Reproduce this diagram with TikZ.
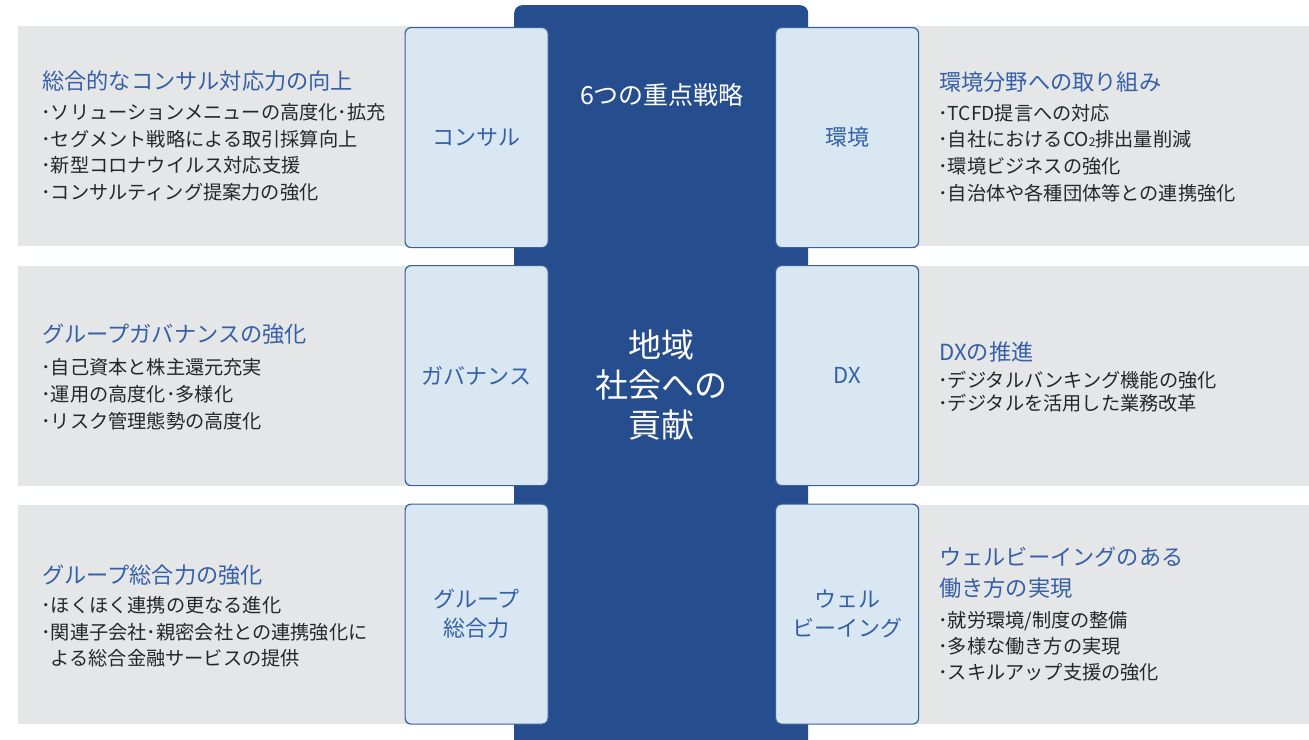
\documentclass[tikz,border=0pt]{standalone}
\usepackage{fontspec}
\setmainfont{Noto Sans CJK JP}
\definecolor{cblue}{HTML}{264D8E}
\definecolor{lbox}{HTML}{D8E7F1}
\definecolor{lborder}{HTML}{3A5F9E}
\definecolor{gpanel}{HTML}{E5E6E8}
\definecolor{ttl}{HTML}{3560A6}
\definecolor{txt}{HTML}{262626}
\newcommand{\bdot}{･}
\tikzset{
  panel/.style={fill=gpanel, draw=none, inner sep=0pt, anchor=north west},
  lab/.style={fill=lbox, draw=lborder, line width=1.2pt, rounded corners=6pt, inner sep=0pt,
     minimum width=143pt, minimum height=220pt, anchor=north west, align=center,
     text=ttl, font={\fontsize{22}{29}\selectfont}},
  title/.style={anchor=west, inner sep=0pt, text=ttl, align=left, font={\fontsize{22.2}{31}\selectfont}},
  bul/.style={anchor=west, inner sep=0pt, text=txt, align=left},
}
\begin{document}
\begin{tikzpicture}[x=1pt,y=-1pt]
\useasboundingbox (0,0) rectangle (1309,739);
\clip (0,0) rectangle (1309,739);
% gray panels
\node[panel, minimum width=502pt, minimum height=220pt] (gL1) at (18,26) {};
\node[panel, minimum width=502pt, minimum height=220pt] (gL2) at (18,266) {};
\node[panel, minimum width=502pt, minimum height=219pt] (gL3) at (18,505) {};
\node[panel, minimum width=509pt, minimum height=220pt] (gR1) at (800,26) {};
\node[panel, minimum width=509pt, minimum height=220pt] (gR2) at (800,266) {};
\node[panel, minimum width=509pt, minimum height=219pt] (gR3) at (800,505) {};
% central column
\node[fill=cblue, rounded corners=8pt, inner sep=0pt, minimum width=294pt, minimum height=760pt, anchor=north west] (core) at (514,5) {};
\node[text=white, inner sep=0pt, font={\fontsize{25}{28}\selectfont}] (head) at (662,95) {6つの重点戦略};
\node[text=white, inner sep=0pt, align=center, font={\fontsize{33}{40}\selectfont}] (goal) at (661,385) {地域\\社会への\\貢献};
% label boxes
\node[lab] (bL1) at (404.5,27) {コンサル};
\node[lab] (bL2) at (404.5,265) {ガバナンス};
\node[lab] (bL3) at (404.5,503.5) {グループ\\総合力};
\node[lab] (bR1) at (775,27) {環境};
\node[lab] (bR2) at (775,265) {DX};
\node[lab] (bR3) at (775,503.5) {ウェル\\ビーイング};
% left texts
\node[title] (tL1) at (42,81) {総合的なコンサル対応力の向上};
\node[bul, font={\fontsize{19.2}{26.5}\selectfont}] (uL1) at (41,152.5) {\bdot ソリューションメニューの高度化\bdot 拡充\\\bdot セグメント戦略による取引採算向上\\\bdot 新型コロナウイルス対応支援\\\bdot コンサルティング提案力の強化};
\node[title] (tL2) at (42,334) {グループガバナンスの強化};
\node[bul, font={\fontsize{19.2}{26.7}\selectfont}] (uL2) at (41,394) {\bdot 自己資本と株主還元充実\\\bdot 運用の高度化\bdot 多様化\\\bdot リスク管理態勢の高度化};
\node[title] (tL3) at (42,575) {グループ総合力の強化};
\node[bul, font={\fontsize{19.2}{26.5}\selectfont}] (uL3) at (41,632) {\bdot ほくほく連携の更なる進化\\\bdot 関連子会社\bdot 親密会社との連携強化に\\\hspace*{0.5em}よる総合金融サービスの提供};
% right texts
\node[title] (tR1) at (939,82) {環境分野への取り組み};
\node[bul, font={\fontsize{19.2}{26.6}\selectfont}] (uR1) at (938,153) {\bdot TCFD提言への対応\\\bdot 自社におけるCO{\fontsize{12}{12}\selectfont 2}排出量削減\\\bdot 環境ビジネスの強化\\\bdot 自治体や各種団体等との連携強化};
\node[title] (tR2) at (939,352.5) {DXの推進};
\node[bul, font={\fontsize{19.2}{23.3}\selectfont}] (uR2) at (938,391.7) {\bdot デジタルバンキング機能の強化\\\bdot デジタルを活用した業務改革};
\node[title] (tR3) at (939,573) {ウェルビーイングのある\\働き方の実現};
\node[bul, font={\fontsize{19.2}{26.4}\selectfont}] (uR3) at (938,646.3) {\bdot 就労環境/制度の整備\\\bdot 多様な働き方の実現\\\bdot スキルアップ支援の強化};
\end{tikzpicture}
\end{document}
